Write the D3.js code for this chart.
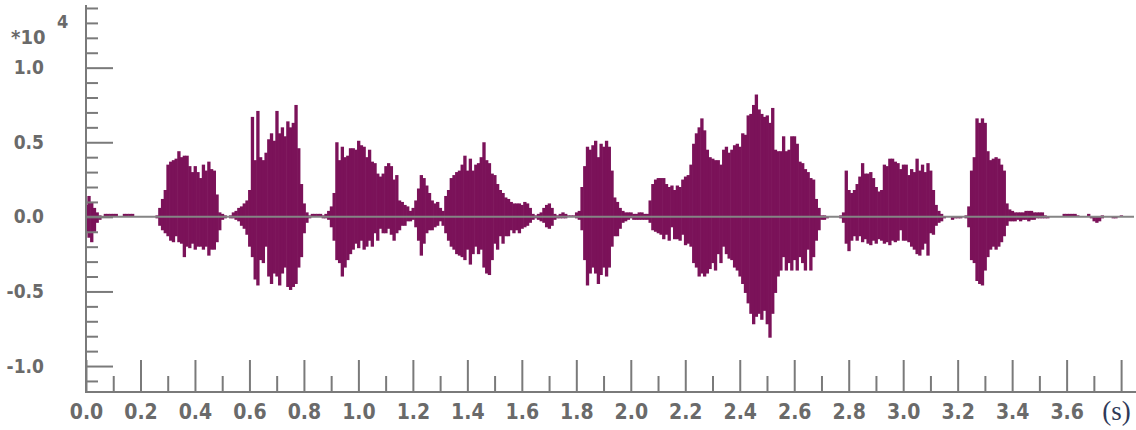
<!DOCTYPE html>
<html>
<head>
<meta charset="utf-8">
<script src="https://cdn.jsdelivr.net/npm/d3@7"></script>
<style>
  html, body { margin: 0; padding: 0; background: #ffffff; }
  svg { display: block; }
  .lbl { font-family: "Liberation Sans Narrow", "DejaVu Sans Condensed", "DejaVu Sans", sans-serif; font-stretch: condensed; font-weight: bold; fill: #6a6a6a; }
</style>
</head>
<body>
<svg id="chart" width="1136" height="430"></svg>
<script>
// ---- data (amplitude in units of 10^4, one envelope column every 0.01 s) ----
const startTime = 0.0;
const sampleStep = 0.01;
const upperEnv = [
  0.08,0.14,0.10,0.06,0.03,0.01,0.00,0.02,0.02,0.02,
  0.02,0.02,0.00,0.00,0.02,0.02,0.02,0.02,0.00,0.00,
  0.00,0.00,0.00,0.00,0.00,0.00,0.01,0.06,0.12,0.18,
  0.35,0.37,0.38,0.39,0.44,0.40,0.41,0.41,0.34,0.30,
  0.34,0.30,0.26,0.35,0.31,0.37,0.32,0.31,0.15,0.03,
  0.02,0.01,0.00,0.01,0.03,0.04,0.06,0.07,0.09,0.11,
  0.18,0.67,0.38,0.71,0.40,0.38,0.43,0.52,0.56,0.51,
  0.71,0.56,0.60,0.54,0.64,0.60,0.63,0.75,0.46,0.22,
  0.09,0.03,0.01,0.02,0.02,0.02,0.02,0.01,0.02,0.04,
  0.07,0.16,0.50,0.38,0.47,0.40,0.41,0.46,0.46,0.45,
  0.51,0.48,0.47,0.40,0.45,0.37,0.36,0.29,0.27,0.29,
  0.34,0.36,0.34,0.25,0.28,0.11,0.10,0.08,0.07,0.04,
  0.06,0.11,0.19,0.28,0.26,0.21,0.16,0.11,0.09,0.10,
  0.06,0.04,0.14,0.18,0.26,0.28,0.30,0.31,0.35,0.41,
  0.31,0.39,0.31,0.35,0.36,0.40,0.50,0.38,0.36,0.29,
  0.28,0.22,0.18,0.16,0.13,0.12,0.10,0.09,0.09,0.09,
  0.08,0.10,0.09,0.06,0.02,0.01,0.02,0.03,0.06,0.08,
  0.09,0.06,0.02,0.01,0.02,0.03,0.02,0.01,0.01,0.01,
  0.03,0.04,0.20,0.34,0.47,0.45,0.48,0.51,0.40,0.49,
  0.47,0.51,0.47,0.31,0.13,0.10,0.06,0.04,0.03,0.03,
  0.03,0.02,0.02,0.03,0.03,0.02,0.02,0.11,0.22,0.25,
  0.26,0.26,0.26,0.22,0.20,0.21,0.18,0.21,0.20,0.25,
  0.27,0.28,0.35,0.49,0.56,0.60,0.66,0.58,0.45,0.40,
  0.39,0.38,0.38,0.35,0.45,0.47,0.43,0.45,0.48,0.49,
  0.47,0.56,0.55,0.68,0.69,0.75,0.82,0.72,0.69,0.67,
  0.68,0.63,0.73,0.45,0.44,0.44,0.54,0.44,0.45,0.54,
  0.54,0.49,0.37,0.36,0.32,0.30,0.26,0.25,0.12,0.06,
  0.01,0.01,0.00,0.00,0.00,0.00,0.00,0.01,0.03,0.31,
  0.18,0.16,0.18,0.22,0.27,0.36,0.29,0.29,0.30,0.26,
  0.20,0.17,0.18,0.35,0.34,0.39,0.39,0.37,0.36,0.32,
  0.35,0.35,0.28,0.32,0.30,0.39,0.31,0.35,0.30,0.36,
  0.31,0.18,0.08,0.04,0.02,0.00,0.00,0.00,0.00,0.00,
  0.00,0.00,0.00,0.01,0.07,0.31,0.40,0.66,0.63,0.66,
  0.63,0.44,0.38,0.39,0.40,0.39,0.35,0.31,0.09,0.05,
  0.04,0.03,0.03,0.03,0.03,0.04,0.04,0.04,0.03,0.03,
  0.03,0.03,0.01,0.00,0.00,0.00,0.00,0.00,0.00,0.02,
  0.02,0.02,0.02,0.02,0.01,0.00,0.00,0.00,0.02,0.00,
  0.00,0.00,0.00,0.01,0.00,0.00,0.00,0.00,0.00,0.00,0.01
];
const lowerEnv = [
  -0.10,-0.14,-0.17,-0.10,-0.04,-0.02,0.00,0.00,0.00,0.00,
  0.00,0.00,0.00,0.00,0.00,0.00,0.00,0.00,0.00,0.00,
  0.00,0.00,0.00,0.00,0.00,0.00,-0.01,-0.06,-0.09,-0.11,
  -0.13,-0.16,-0.17,-0.13,-0.17,-0.18,-0.27,-0.20,-0.21,-0.18,
  -0.22,-0.20,-0.20,-0.22,-0.20,-0.26,-0.22,-0.22,-0.17,-0.09,
  -0.02,-0.01,0.00,-0.01,-0.01,-0.02,-0.03,-0.06,-0.08,-0.12,
  -0.20,-0.27,-0.42,-0.46,-0.29,-0.31,-0.20,-0.40,-0.45,-0.38,
  -0.40,-0.46,-0.38,-0.34,-0.47,-0.49,-0.47,-0.45,-0.34,-0.27,
  -0.11,-0.04,-0.01,0.00,0.00,0.00,0.00,-0.01,-0.01,-0.02,
  -0.07,-0.16,-0.29,-0.31,-0.40,-0.34,-0.29,-0.25,-0.22,-0.18,
  -0.21,-0.16,-0.22,-0.20,-0.16,-0.20,-0.11,-0.16,-0.08,-0.11,
  -0.11,-0.08,-0.12,-0.16,-0.11,-0.09,-0.06,-0.06,-0.03,-0.03,
  -0.02,-0.07,-0.16,-0.26,-0.18,-0.11,-0.09,-0.09,-0.07,-0.06,
  -0.03,-0.06,-0.11,-0.16,-0.20,-0.22,-0.25,-0.26,-0.27,-0.29,
  -0.22,-0.32,-0.25,-0.20,-0.25,-0.22,-0.34,-0.38,-0.39,-0.29,
  -0.18,-0.22,-0.13,-0.18,-0.13,-0.13,-0.09,-0.11,-0.09,-0.11,
  -0.08,-0.07,-0.06,-0.04,-0.02,-0.01,-0.02,-0.03,-0.04,-0.07,
  -0.08,-0.06,-0.02,-0.01,-0.01,-0.01,-0.01,0.00,0.00,0.00,
  -0.01,-0.02,-0.09,-0.29,-0.46,-0.38,-0.34,-0.38,-0.45,-0.39,
  -0.34,-0.40,-0.34,-0.20,-0.13,-0.13,-0.08,-0.04,-0.03,-0.02,
  -0.01,-0.02,-0.02,-0.02,-0.02,-0.02,-0.02,-0.04,-0.09,-0.10,
  -0.11,-0.12,-0.15,-0.12,-0.16,-0.07,-0.15,-0.15,-0.16,-0.12,
  -0.19,-0.18,-0.20,-0.31,-0.34,-0.40,-0.38,-0.40,-0.38,-0.35,
  -0.31,-0.36,-0.25,-0.31,-0.20,-0.25,-0.28,-0.29,-0.34,-0.36,
  -0.40,-0.45,-0.51,-0.58,-0.65,-0.72,-0.67,-0.65,-0.69,-0.63,
  -0.72,-0.81,-0.65,-0.51,-0.40,-0.36,-0.27,-0.36,-0.31,-0.36,
  -0.29,-0.36,-0.27,-0.31,-0.36,-0.22,-0.36,-0.27,-0.16,-0.09,
  -0.02,-0.02,-0.01,0.00,0.00,0.00,0.00,-0.01,-0.04,-0.18,
  -0.23,-0.16,-0.13,-0.16,-0.13,-0.17,-0.15,-0.18,-0.19,-0.16,
  -0.18,-0.15,-0.16,-0.18,-0.17,-0.19,-0.16,-0.17,-0.16,-0.09,
  -0.16,-0.16,-0.17,-0.20,-0.22,-0.25,-0.26,-0.22,-0.18,-0.26,
  -0.11,-0.12,-0.06,-0.04,-0.03,-0.01,0.00,0.00,-0.02,-0.01,
  -0.01,-0.01,0.00,-0.01,-0.07,-0.29,-0.31,-0.43,-0.45,-0.46,
  -0.36,-0.27,-0.22,-0.20,-0.22,-0.20,-0.17,-0.13,-0.06,-0.03,
  -0.03,-0.03,-0.02,-0.03,-0.02,-0.02,-0.03,-0.02,-0.02,-0.01,
  -0.01,-0.01,-0.01,-0.01,0.00,0.00,0.00,0.00,0.00,0.00,
  0.00,0.00,0.00,0.00,0.00,0.00,0.00,0.00,0.00,-0.01,
  -0.03,-0.04,-0.03,-0.01,0.00,0.00,0.00,-0.01,-0.01,0.00,0.00
];
const xMajorTicks = [0.0,0.2,0.4,0.6,0.8,1.0,1.2,1.4,1.6,1.8,2.0,2.2,2.4,2.6,2.8,3.0,3.2,3.4,3.6,3.8];
const xMajorLabels = ["0.0","0.2","0.4","0.6","0.8","1.0","1.2","1.4","1.6","1.8","2.0","2.2","2.4","2.6","2.8","3.0","3.2","3.4","3.6","(s)"];
const xMinorTicks = [0.1,0.3,0.5,0.7,0.9,1.1,1.3,1.5,1.7,1.9,2.1,2.3,2.5,2.7,2.9,3.1,3.3,3.5,3.7];
const yMajorTicks = [-1.0,-0.5,0.0,0.5,1.0];
const yMajorLabels = ["-1.0","-0.5","0.0","0.5","1.0"];
const yMinorTicks = [-1.1,-0.9,-0.8,-0.7,-0.6,-0.4,-0.3,-0.2,-0.1,0.1,0.2,0.3,0.4,0.6,0.7,0.8,0.9,1.1,1.2,1.3,1.4];
const scaleExponent = "4";

// ---- layout ----
const W = 1136, H = 430;
const plotLeft = 86, plotBottom = 392, plotTop = 5, xEnd = 1121.1;
const svg = d3.select("#chart");

const x = d3.scaleLinear().domain([0, 3.8]).range([plotLeft, xEnd]);
const y = d3.scaleLinear().domain([-1.174, 1.42]).range([plotBottom, plotTop]);

const waveColor = "#7b1259";
const axisColor = "#7a7a7a";

// waveform columns
const samples = upperEnv.map((u, i) => ({ t: startTime + i * sampleStep, hi: u, lo: lowerEnv[i] }));
const colW = x(sampleStep) - x(0);
svg.append("g").selectAll("rect")
  .data(samples.filter(d => d.hi - d.lo > 0))
  .join("rect")
  .attr("x", d => Math.max(plotLeft, x(d.t) - colW / 2))
  .attr("width", d => x(d.t) + colW / 2 - Math.max(plotLeft, x(d.t) - colW / 2) + 0.6)
  .attr("y", d => y(d.hi))
  .attr("height", d => Math.max(1, y(d.lo) - y(d.hi)))
  .attr("fill", waveColor);

// zero line
svg.append("line")
  .attr("x1", plotLeft).attr("x2", 1134)
  .attr("y1", y(0)).attr("y2", y(0))
  .attr("stroke", "#858585").attr("stroke-width", 2);

function styleAxis(g) {
  g.select(".domain").remove();
  g.selectAll(".tick line").attr("stroke", axisColor).attr("stroke-width", 2);
}

// y axis minor ticks
svg.append("g").attr("transform", `translate(${plotLeft},0)`)
  .call(d3.axisLeft(y).tickValues(yMinorTicks).tickSize(-12).tickFormat(""))
  .call(styleAxis);
// y axis major ticks + labels
const yMaj = svg.append("g").attr("transform", `translate(${plotLeft},0)`)
  .call(d3.axisLeft(y).tickValues(yMajorTicks).tickSize(-27).tickPadding(42)
    .tickFormat((d, i) => yMajorLabels[i]))
  .call(styleAxis);
yMaj.selectAll(".tick text").attr("class", "lbl").style("font-size", "19px").attr("fill", null);

// x axis minor ticks
svg.append("g").attr("transform", `translate(0,${plotBottom})`)
  .call(d3.axisBottom(x).tickValues(xMinorTicks).tickSize(-16).tickFormat(""))
  .call(styleAxis);
// x axis major ticks + labels
const xMaj = svg.append("g").attr("transform", `translate(0,${plotBottom})`)
  .call(d3.axisBottom(x).tickValues(xMajorTicks).tickSize(-32).tickPadding(12)
    .tickFormat((d, i) => xMajorLabels[i]))
  .call(styleAxis);
xMaj.selectAll(".tick text").attr("class", "lbl").style("font-size", "21px").attr("fill", null);
// unit label
xMaj.selectAll(".tick text").filter((d, i) => xMajorLabels[i] === "(s)")
  .attr("class", null)
  .attr("dx", "-5")
  .attr("dy", "0.6em")
  .style("font-family", "'Liberation Serif', 'DejaVu Serif', serif")
  .style("font-size", "27px")
  .style("font-weight", "normal")
  .attr("fill", "#2f3a58");

// axis lines
svg.append("line").attr("x1", plotLeft).attr("x2", plotLeft).attr("y1", plotTop).attr("y2", plotBottom + 1)
  .attr("stroke", axisColor).attr("stroke-width", 2);
svg.append("line").attr("x1", plotLeft - 1).attr("x2", W).attr("y1", plotBottom).attr("y2", plotBottom)
  .attr("stroke", axisColor).attr("stroke-width", 2);

// scale factor label  *10^4
svg.append("text").attr("class", "lbl").attr("x", 11).attr("y", 44)
  .style("font-size", "20px").text("*10");
svg.append("text").attr("class", "lbl").attr("x", 57).attr("y", 28)
  .style("font-size", "18px").text(scaleExponent);
</script>
</body>
</html>
